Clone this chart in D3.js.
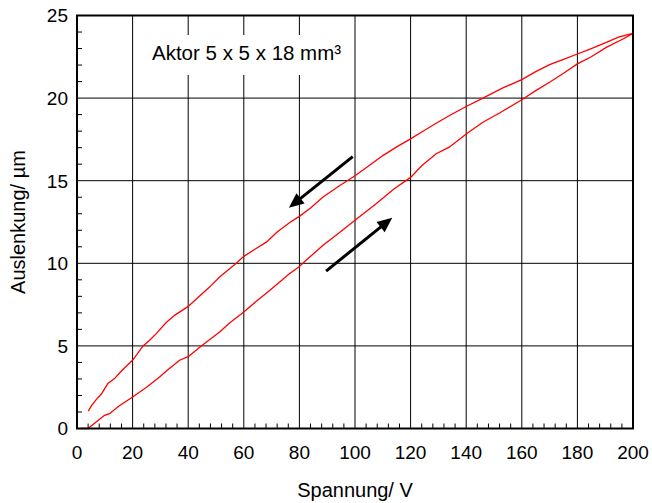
<!DOCTYPE html>
<html>
<head>
<meta charset="utf-8">
<script src="https://cdn.jsdelivr.net/npm/d3@7"></script>
<style>
  html, body { margin: 0; padding: 0; background: #fff; }
  svg { display: block; font-family: "Liberation Sans", Arial, sans-serif; }
</style>
</head>
<body>
<svg id="chart" width="652" height="503"></svg>
<script>
// ---- data ----
const xTicks = [0, 20, 40, 60, 80, 100, 120, 140, 160, 180, 200];
const yTicks = [0, 5, 10, 15, 20, 25];
const xLabel = "Spannung/ V";
const yLabel = "Auslenkung/ µm";
const titleText = "Aktor 5 x 5 x 18 mm³";

// rising voltage branch (lower curve)
const voltUp = [1.5, 3.9, 6.9, 9.9, 11.7, 15, 20, 24.9, 29.7, 33, 36.9, 40, 44.7, 51.3, 55, 60, 64.5, 69.3, 76.4, 80, 82.4, 88.4, 94, 100, 107.6, 114, 120, 124, 129.2, 133.9, 140, 146, 152, 160, 165, 170, 175, 180, 185, 190.4, 196.4, 200];
const dispUp = [0, 0, 0.4, 0.8, 0.9, 1.35, 1.91, 2.48, 3.12, 3.6, 4.13, 4.35, 5.0, 5.84, 6.4, 7.05, 7.7, 8.36, 9.37, 9.81, 10.18, 11.08, 11.8, 12.6, 13.6, 14.5, 15.2, 15.9, 16.63, 17.03, 17.83, 18.54, 19.1, 19.9, 20.45, 20.96, 21.5, 22.07, 22.5, 23.07, 23.58, 23.92];

// falling voltage branch (upper curve)
const voltDown = [200, 195, 190.4, 185, 180, 175, 170, 165, 160, 153, 146, 140, 134, 129.2, 124, 120, 115, 110, 105, 100, 94, 88.4, 84, 80, 76.4, 72, 68.1, 64, 60, 57.3, 51.3, 47.7, 44, 40, 35.1, 32, 28.5, 26.1, 23.7, 20, 17.7, 15.3, 13.5, 11.1, 8.7, 6.9, 5.1, 4.1];
const dispDown = [23.92, 23.7, 23.37, 23.0, 22.67, 22.35, 22.03, 21.6, 21.12, 20.6, 20.0, 19.49, 18.95, 18.48, 17.95, 17.53, 17.05, 16.52, 15.9, 15.3, 14.65, 14.0, 13.35, 12.84, 12.45, 11.9, 11.28, 10.85, 10.42, 10.0, 9.17, 8.56, 8.0, 7.39, 6.85, 6.4, 5.74, 5.34, 4.98, 4.13, 3.77, 3.36, 3.02, 2.72, 2.07, 1.75, 1.35, 1.05];

// direction arrows [x0, y0, x1, y1] in data units
const arrowDown = [99.2, 16.46, 76.2, 13.36];
const arrowUp = [89.6, 9.53, 113.4, 12.76];

// ---- layout ----
const svg = d3.select("#chart");
const L = 77, R = 633, T = 15.5, B = 428.5;
const x = d3.scaleLinear().domain([0, 200]).range([L, R]);
const y = d3.scaleLinear().domain([0, 25]).range([B, T]);

// grid
const g = svg.append("g");
g.selectAll("line.vg").data(xTicks.slice(1, -1)).enter().append("line")
  .attr("x1", d => x(d)).attr("x2", d => x(d)).attr("y1", T).attr("y2", B)
  .attr("stroke", "#000").attr("stroke-width", 1);
g.selectAll("line.hg").data(yTicks.slice(1, -1)).enter().append("line")
  .attr("x1", L).attr("x2", R).attr("y1", d => y(d)).attr("y2", d => y(d))
  .attr("stroke", "#000").attr("stroke-width", 1);

// minor ticks (inside)
const xMinor = d3.range(0, 201, 4).filter(v => v % 20 !== 0);
const yMinor = d3.range(0, 26, 1).filter(v => v % 5 !== 0);
g.selectAll("line.xm").data(xMinor).enter().append("line")
  .attr("x1", d => x(d)).attr("x2", d => x(d)).attr("y1", B).attr("y2", B - 5)
  .attr("stroke", "#000").attr("stroke-width", 1);
g.selectAll("line.ym").data(yMinor).enter().append("line")
  .attr("x1", L).attr("x2", L + 5).attr("y1", d => y(d)).attr("y2", d => y(d))
  .attr("stroke", "#000").attr("stroke-width", 1);

// label box
const tb = svg.append("g");
tb.append("rect").attr("x", 141).attr("y", 35).attr("width", 212).attr("height", 40).attr("fill", "#fff");
tb.append("text").attr("x", 152).attr("y", 60).attr("font-size", 20.5).attr("fill", "#000").text(titleText);

// curves
const line = d3.line().x(d => x(d[0])).y(d => y(d[1]));
svg.append("path").datum(voltUp.map((v, i) => [v, dispUp[i]]))
  .attr("d", line).attr("fill", "none").attr("stroke", "#ff0000").attr("stroke-width", 1.3);
svg.append("path").datum(voltDown.map((v, i) => [v, dispDown[i]]))
  .attr("d", line).attr("fill", "none").attr("stroke", "#ff0000").attr("stroke-width", 1.3);

// arrows
function drawArrow(a) {
  const x0 = x(a[0]), y0 = y(a[1]), x1 = x(a[2]), y1 = y(a[3]);
  const ang = Math.atan2(y1 - y0, x1 - x0);
  const hl = 15, hw = 6.5;
  const bx = x1 - hl * Math.cos(ang), by = y1 - hl * Math.sin(ang);
  svg.append("line").attr("x1", x0).attr("y1", y0).attr("x2", bx + 2 * Math.cos(ang)).attr("y2", by + 2 * Math.sin(ang))
    .attr("stroke", "#000").attr("stroke-width", 3);
  const px = -Math.sin(ang), py = Math.cos(ang);
  svg.append("polygon")
    .attr("points", [[x1, y1], [bx + hw * px, by + hw * py], [bx - hw * px, by - hw * py]].map(p => p.join(",")).join(" "))
    .attr("fill", "#000");
}
drawArrow(arrowDown);
drawArrow(arrowUp);

// frame
svg.append("rect").attr("x", L).attr("y", T).attr("width", R - L).attr("height", B - T)
  .attr("fill", "none").attr("stroke", "#000").attr("stroke-width", 2);

// tick labels
svg.selectAll("text.xt").data(xTicks).enter().append("text")
  .attr("x", d => x(d)).attr("y", 459).attr("text-anchor", "middle")
  .attr("font-size", 19).attr("fill", "#000").text(d => d);
svg.selectAll("text.yt").data(yTicks).enter().append("text")
  .attr("x", 68).attr("y", d => y(d)).attr("dy", "0.36em").attr("text-anchor", "end")
  .attr("font-size", 19).attr("fill", "#000").text(d => d);

// axis labels
svg.append("text").attr("x", (L + R) / 2).attr("y", 497).attr("text-anchor", "middle")
  .attr("font-size", 20).attr("fill", "#000").text(xLabel);
svg.append("text").attr("transform", `translate(25,${(T + B) / 2}) rotate(-90)`).attr("text-anchor", "middle")
  .attr("font-size", 20).attr("fill", "#000").text(yLabel);
</script>
</body>
</html>
